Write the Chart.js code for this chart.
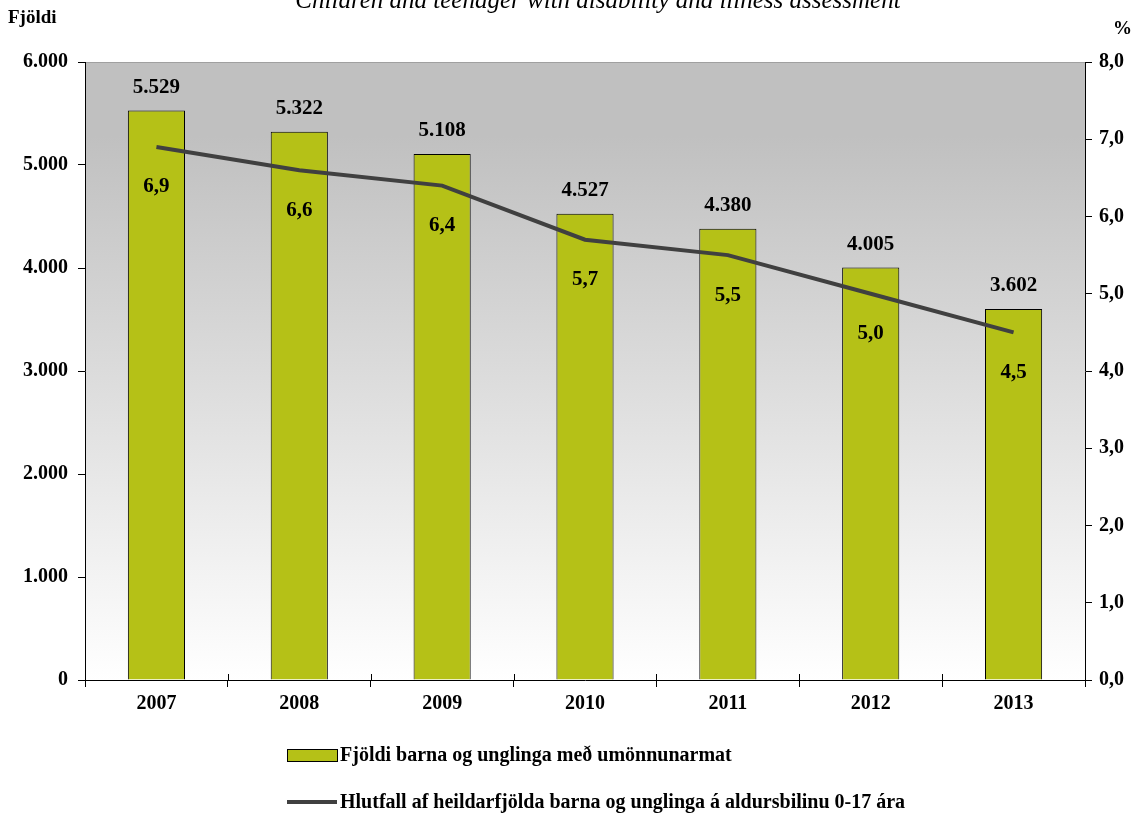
<!DOCTYPE html>
<html>
<head>
<meta charset="utf-8">
<script src="https://cdn.jsdelivr.net/npm/chart.js@4.4.1/dist/chart.umd.min.js"></script>
<style>
  html, body { margin: 0; padding: 0; background: #fff; }
  #wrap { width: 1134px; height: 819px; position: relative; }
</style>
</head>
<body>
<div id="wrap"><canvas id="chart"></canvas></div>
<script>
// data
const years = ["2007", "2008", "2009", "2010", "2011", "2012", "2013"]
const fjoldi = [5529, 5322, 5108, 4527, 4380, 4005, 3602]
const hlutfall = [6.9, 6.6, 6.4, 5.7, 5.5, 5.0, 4.5]
const leftTicks = [0, 1000, 2000, 3000, 4000, 5000, 6000]
const rightTicks = [0, 1, 2, 3, 4, 5, 6, 7, 8]

const barLabel = "Fjöldi barna og unglinga með umönnunarmat"
const lineLabel = "Hlutfall af heildarfjölda barna og unglinga á aldursbilinu 0-17 ára"
const title = "Children and teenager with disability and illness assessment"

const SERIF = "'Liberation Serif', 'Times New Roman', serif"
const BAR_COLOR = "#b5c117"
const LINE_COLOR = "#404040"

function fmtThousand(v) {
    return v.toLocaleString("de-DE")
}
function fmtDec(v) {
    return v.toFixed(1).replace(".", ",")
}

// gray -> white gradient behind the plot area
const bgPlugin = {
    id: "bg",
    beforeDraw(chart) {
        const { ctx, chartArea: a } = chart
        const g = ctx.createLinearGradient(0, a.top, 0, a.bottom)
        g.addColorStop(0, "#c0c0c0")
        g.addColorStop(0.12, "#c0c0c0")
        g.addColorStop(1, "#ffffff")
        ctx.save()
        ctx.fillStyle = g
        ctx.fillRect(a.left, a.top, a.right - a.left, a.bottom - a.top)
        ctx.strokeStyle = "#a0a0a0"
        ctx.lineWidth = 1
        ctx.beginPath()
        ctx.moveTo(a.left, a.top + 0.5)
        ctx.lineTo(a.right, a.top + 0.5)
        ctx.stroke()
        ctx.restore()
    }
}

// values, axis titles, title and legend
const textPlugin = {
    id: "texts",
    afterDatasetsDraw(chart) {
        const ctx = chart.ctx
        ctx.save()
        ctx.fillStyle = "#000"
        ctx.textAlign = "center"
        ctx.textBaseline = "middle"
        ctx.font = "bold 21px " + SERIF

        chart.getDatasetMeta(1).data.forEach((bar, i) => {
            ctx.fillText(fmtThousand(fjoldi[i]), bar.x, bar.y - 23)
        })
        chart.getDatasetMeta(0).data.forEach((pt, i) => {
            ctx.fillText(fmtDec(hlutfall[i]), pt.x, pt.y + 40)
        })

        // axis titles
        ctx.font = "bold 19px " + SERIF
        ctx.textAlign = "left"
        ctx.fillText("Fjöldi", 8, 18)
        ctx.fillText("%", 1113, 29)

        // cut-off title at the top
        ctx.font = "italic 25px " + SERIF
        ctx.textAlign = "center"
        ctx.textBaseline = "alphabetic"
        ctx.fillText(title, 598, 8)

        // legend
        ctx.textAlign = "left"
        ctx.textBaseline = "middle"
        ctx.font = "bold 20px " + SERIF
        ctx.fillStyle = BAR_COLOR
        ctx.fillRect(287, 749, 50, 12)
        ctx.strokeStyle = "#000"
        ctx.lineWidth = 1
        ctx.strokeRect(287.5, 749.5, 50, 12)
        ctx.fillStyle = "#000"
        ctx.fillText(barLabel, 340, 756)

        ctx.strokeStyle = LINE_COLOR
        ctx.lineWidth = 4
        ctx.beginPath()
        ctx.moveTo(287, 802)
        ctx.lineTo(337, 802)
        ctx.stroke()
        ctx.fillText(lineLabel, 340, 803)
        ctx.restore()
    }
}

// x tick marks crossing the axis line
const xTickPlugin = {
    id: "xticks",
    afterDraw(chart) {
        const { ctx, chartArea: a } = chart
        const xs = chart.scales.x
        ctx.save()
        ctx.strokeStyle = "#000"
        ctx.lineWidth = 1
        for (let i = 0; i <= years.length; i++) {
            const x = Math.round(xs.left + i * (xs.right - xs.left) / years.length) + 0.5
            ctx.beginPath()
            ctx.moveTo(x, a.bottom - 6)
            ctx.lineTo(x, a.bottom)
            ctx.stroke()
        }
        ctx.restore()
    }
}

const data = {
    labels: years,
    datasets: [
        {
            type: "line",
            label: lineLabel,
            data: hlutfall,
            yAxisID: "y1",
            borderColor: LINE_COLOR,
            borderWidth: 4,
            pointRadius: 0,
            tension: 0,
            order: 0
        },
        {
            type: "bar",
            label: barLabel,
            data: fjoldi,
            yAxisID: "y",
            backgroundColor: BAR_COLOR,
            borderColor: "#000",
            borderWidth: 1,
            barPercentage: 0.4,
            categoryPercentage: 1,
            order: 1
        }
    ]
}

const tickFont = { family: SERIF, size: 20, weight: "bold" }

const config = {
    data: data,
    options: {
        responsive: false,
        animation: false,
        layout: { padding: { top: 62, left: 0, right: 0, bottom: 0 } },
        plugins: {
            legend: { display: false },
            tooltip: { enabled: false }
        },
        scales: {
            x: {
                offset: true,
                grid: { offset: true, drawOnChartArea: false, tickLength: 7, color: "#000" },
                border: { color: "#000", width: 1 },
                ticks: { font: tickFont, color: "#000", padding: 5 },
                afterFit(scale) { scale.height = 139 }
            },
            y: {
                position: "left",
                min: 0,
                max: 6000,
                afterBuildTicks(scale) { scale.ticks = leftTicks.map(v => ({ value: v })) },
                grid: { drawOnChartArea: false, tickLength: 7, color: "#000" },
                border: { color: "#000", width: 1 },
                ticks: { font: tickFont, color: "#000", padding: 10, callback: v => fmtThousand(v) },
                afterFit(scale) { scale.width = 85 }
            },
            y1: {
                position: "right",
                min: 0,
                max: 8,
                afterBuildTicks(scale) { scale.ticks = rightTicks.map(v => ({ value: v })) },
                grid: { drawOnChartArea: false, tickLength: 7, color: "#000" },
                border: { color: "#000", width: 1 },
                ticks: { font: tickFont, color: "#000", padding: 7, callback: v => fmtDec(v) },
                afterFit(scale) { scale.width = 49 }
            }
        }
    },
    plugins: [bgPlugin, xTickPlugin, textPlugin]
}

const canvas = document.getElementById("chart")
canvas.width = 1134
canvas.height = 819
new Chart(canvas, config)
</script>
</body>
</html>
